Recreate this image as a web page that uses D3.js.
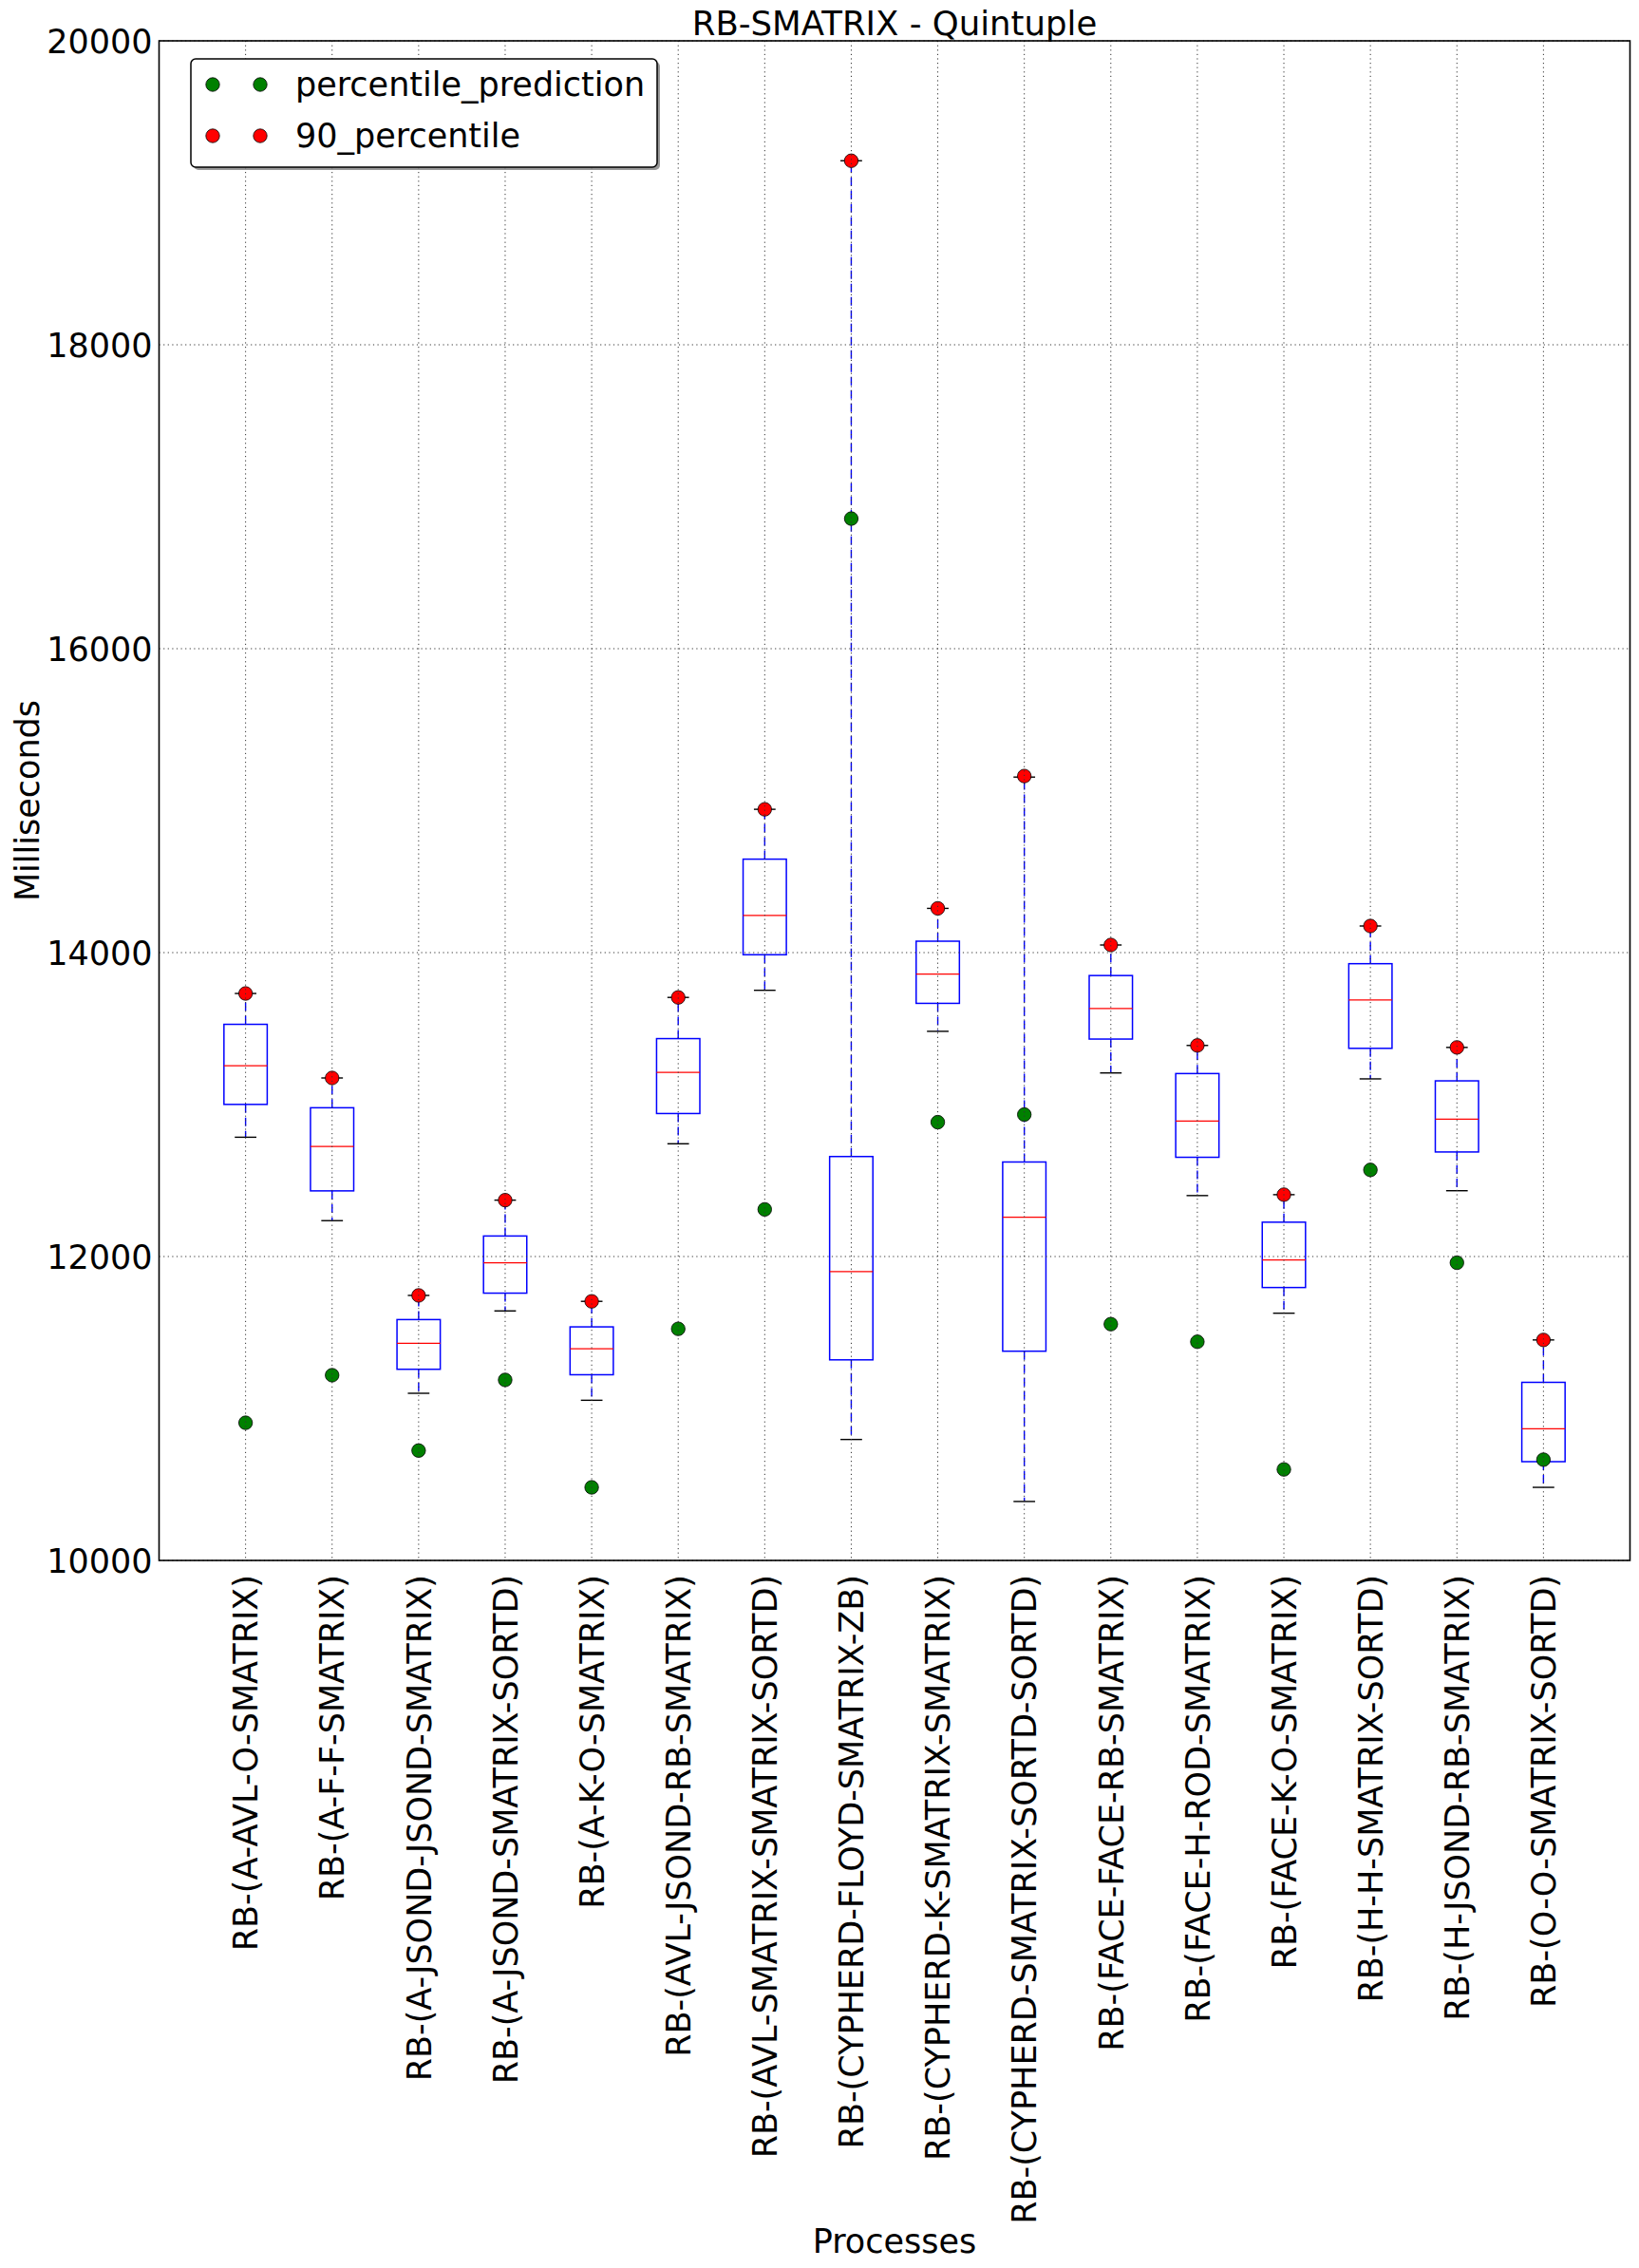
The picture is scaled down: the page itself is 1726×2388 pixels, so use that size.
<!DOCTYPE html>
<html>
<head>
<meta charset="utf-8">
<script src="https://cdn.jsdelivr.net/npm/d3@7/dist/d3.min.js"></script>
<style>
  html, body { margin: 0; padding: 0; background: #fff; }
  svg text { font-family: "DejaVu Sans", sans-serif; fill: #000; }
</style>
</head>
<body>
<svg id="chart" width="1726" height="2388"></svg>
<script>
// ---------------- data ----------------
const categories = [
  "RB-(A-AVL-O-SMATRIX)",
  "RB-(A-F-F-SMATRIX)",
  "RB-(A-JSOND-JSOND-SMATRIX)",
  "RB-(A-JSOND-SMATRIX-SORTD)",
  "RB-(A-K-O-SMATRIX)",
  "RB-(AVL-JSOND-RB-SMATRIX)",
  "RB-(AVL-SMATRIX-SMATRIX-SORTD)",
  "RB-(CYPHERD-FLOYD-SMATRIX-ZB)",
  "RB-(CYPHERD-K-SMATRIX-SMATRIX)",
  "RB-(CYPHERD-SMATRIX-SORTD-SORTD)",
  "RB-(FACE-FACE-RB-SMATRIX)",
  "RB-(FACE-H-ROD-SMATRIX)",
  "RB-(FACE-K-O-SMATRIX)",
  "RB-(H-H-SMATRIX-SORTD)",
  "RB-(H-JSOND-RB-SMATRIX)",
  "RB-(O-O-SMATRIX-SORTD)"
];
const whiskerLow = [12785, 12236, 11100, 11642, 11054, 12742, 13752, 10796, 13482, 10388, 13208, 12401, 11627, 13169, 12433, 10481];
const q1         = [13001, 12432, 11258, 11759, 11222, 12941, 13986, 11320, 13666, 11377, 13431, 12653, 11796, 13370, 12688, 10650];
const median     = [13256, 12724, 11429, 11959, 11393, 13212, 14244, 11901, 13859, 12258, 13632, 12892, 11977, 13688, 12904, 10866];
const q3         = [13528, 12979, 11585, 12135, 11537, 13434, 14615, 12658, 14075, 12622, 13849, 13204, 12226, 13927, 13156, 11172];
const whiskerHigh= [13731, 13175, 11744, 12371, 11705, 13705, 14943, 19211, 14291, 15155, 14050, 13389, 12407, 14175, 13376, 11451];
const percentile90 = [13731, 13175, 11744, 12371, 11705, 13705, 14943, 19211, 14291, 15162, 14050, 13389, 12407, 14175, 13376, 11451];
const percentilePrediction = [10906, 11219, 10723, 11188, 10481, 11524, 12310, 16856, 12884, 12934, 11555, 11439, 10599, 12570, 11959, 10663];
const yTicks = [10000, 12000, 14000, 16000, 18000, 20000];
const legendLabels = ["percentile_prediction", "90_percentile"];
const legendColors = ["#008000", "#ff0000"];

// ---------------- layout ----------------
const svg = d3.select("#chart");
const L = 167.5, R = 1716.5, T = 43, B = 1643;
const FS = 35;

const x = d3.scaleLinear().domain([0, categories.length + 1]).range([L, R]);
const y = d3.scaleLinear().domain([10000, 20000]).range([B, T]);
const step = x(2) - x(1);
const boxW = step * 0.5;
const capW = step * 0.25;

svg.append("rect").attr("width", 1726).attr("height", 2388).attr("fill", "#fff");

const plot = svg.append("g");
const idx = d3.range(categories.length);

// whiskers (dashed blue)
plot.selectAll(".wlo").data(idx).join("line")
  .attr("x1", i => x(i + 1)).attr("x2", i => x(i + 1))
  .attr("y1", i => y(q1[i])).attr("y2", i => y(whiskerLow[i]))
  .attr("stroke", "#0000ff").attr("stroke-width", 1.4).attr("stroke-dasharray", "9,5");
plot.selectAll(".whi").data(idx).join("line")
  .attr("x1", i => x(i + 1)).attr("x2", i => x(i + 1))
  .attr("y1", i => y(q3[i])).attr("y2", i => y(whiskerHigh[i]))
  .attr("stroke", "#0000ff").attr("stroke-width", 1.4).attr("stroke-dasharray", "9,5");

// caps (black)
plot.selectAll(".caplo").data(idx).join("line")
  .attr("x1", i => x(i + 1) - capW / 2).attr("x2", i => x(i + 1) + capW / 2)
  .attr("y1", i => y(whiskerLow[i])).attr("y2", i => y(whiskerLow[i]))
  .attr("stroke", "#000").attr("stroke-width", 1.4);
plot.selectAll(".caphi").data(idx).join("line")
  .attr("x1", i => x(i + 1) - capW / 2).attr("x2", i => x(i + 1) + capW / 2)
  .attr("y1", i => y(whiskerHigh[i])).attr("y2", i => y(whiskerHigh[i]))
  .attr("stroke", "#000").attr("stroke-width", 1.4);

// boxes (blue)
plot.selectAll(".box").data(idx).join("rect")
  .attr("x", i => x(i + 1) - boxW / 2).attr("width", boxW)
  .attr("y", i => y(q3[i])).attr("height", i => y(q1[i]) - y(q3[i]))
  .attr("fill", "none").attr("stroke", "#0000ff").attr("stroke-width", 1.5);

// medians (red)
plot.selectAll(".med").data(idx).join("line")
  .attr("x1", i => x(i + 1) - boxW / 2).attr("x2", i => x(i + 1) + boxW / 2)
  .attr("y1", i => y(median[i])).attr("y2", i => y(median[i]))
  .attr("stroke", "#ff0000").attr("stroke-width", 1.3);

// points
plot.selectAll(".pred").data(idx).join("circle")
  .attr("cx", i => x(i + 1)).attr("cy", i => y(percentilePrediction[i])).attr("r", 7.2)
  .attr("fill", legendColors[0]).attr("stroke", "#000").attr("stroke-width", 0.8);
plot.selectAll(".p90").data(idx).join("circle")
  .attr("cx", i => x(i + 1)).attr("cy", i => y(percentile90[i])).attr("r", 7.2)
  .attr("fill", legendColors[1]).attr("stroke", "#000").attr("stroke-width", 0.8);

// grid (dotted, drawn over data like matplotlib classic)
const grid = svg.append("g");
grid.selectAll(".gx").data(idx).join("line")
  .attr("x1", i => x(i + 1)).attr("x2", i => x(i + 1))
  .attr("y1", T).attr("y2", B)
  .attr("stroke", "#333").attr("stroke-width", 1).attr("stroke-dasharray", "1.2,3.4");
grid.selectAll(".gy").data(yTicks).join("line")
  .attr("x1", L).attr("x2", R)
  .attr("y1", d => y(d)).attr("y2", d => y(d))
  .attr("stroke", "#333").attr("stroke-width", 1).attr("stroke-dasharray", "1.2,3.4");

// axes
const yAxis = svg.append("g").attr("transform", `translate(${L},0)`)
  .call(d3.axisLeft(y).tickValues(yTicks).tickSize(0).tickPadding(7).tickFormat(d3.format("d")));
yAxis.select(".domain").remove();
yAxis.selectAll("text").attr("font-size", FS).attr("dy", "0.35em")
  .style("font-family", "'DejaVu Sans', sans-serif");

const xAxis = svg.append("g").attr("transform", `translate(0,${B})`)
  .call(d3.axisBottom(x).tickValues(d3.range(1, categories.length + 1)).tickSize(0)
    .tickFormat(d => categories[d - 1]));
xAxis.select(".domain").remove();
xAxis.selectAll("text")
  .attr("font-size", FS)
  .attr("transform", "rotate(-90)")
  .attr("text-anchor", "end")
  .attr("x", -15).attr("y", 0).attr("dy", "0.35em")
  .style("font-family", "'DejaVu Sans', sans-serif");

// frame
svg.append("rect").attr("x", L).attr("y", T).attr("width", R - L).attr("height", B - T)
  .attr("fill", "none").attr("stroke", "#000").attr("stroke-width", 1.6);

// title & labels
svg.append("text").attr("x", (L + R) / 2).attr("y", 37).attr("text-anchor", "middle")
  .attr("font-size", 35.5).text("RB-SMATRIX - Quintuple");
svg.append("text").attr("transform", `translate(41,${(T + B) / 2}) rotate(-90)`)
  .attr("text-anchor", "middle").attr("font-size", FS).text("Milliseconds");
svg.append("text").attr("x", (L + R) / 2).attr("y", 2372).attr("text-anchor", "middle")
  .attr("font-size", FS).text("Processes");

// legend
const lg = svg.append("g");
const lgX = 201, lgY = 62, lgW = 491, lgH = 114;
lg.append("rect").attr("x", lgX + 3).attr("y", lgY + 3).attr("width", lgW).attr("height", lgH)
  .attr("rx", 5).attr("fill", "#808080").attr("opacity", 0.8);
lg.append("rect").attr("x", lgX).attr("y", lgY).attr("width", lgW).attr("height", lgH)
  .attr("rx", 5).attr("fill", "#fff").attr("stroke", "#000").attr("stroke-width", 1.5);
const rowsY = [89, 143];
legendLabels.forEach((lab, k) => {
  [224, 274].forEach(mx => {
    lg.append("circle").attr("cx", mx).attr("cy", rowsY[k]).attr("r", 7.2)
      .attr("fill", legendColors[k]).attr("stroke", "#000").attr("stroke-width", 0.8);
  });
  lg.append("text").attr("x", 311).attr("y", rowsY[k]).attr("dy", "0.35em")
    .attr("font-size", FS).text(lab);
});
</script>
</body>
</html>
